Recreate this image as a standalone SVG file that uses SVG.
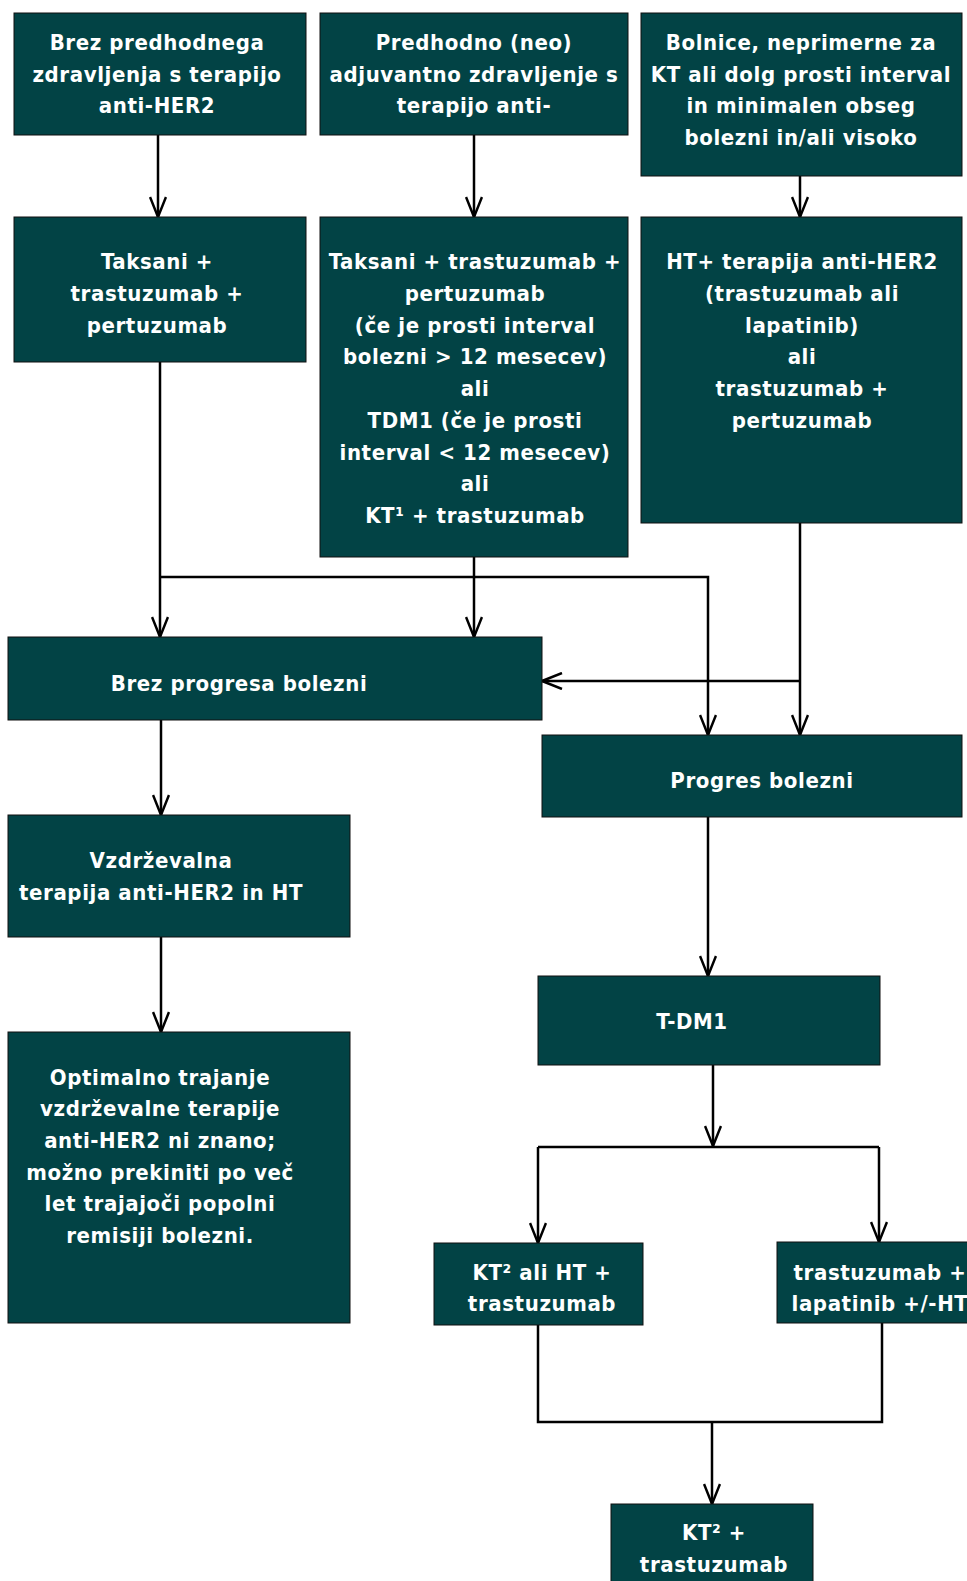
<svg xmlns="http://www.w3.org/2000/svg" width="967" height="1581" viewBox="0 0 967 1581">
<style>
.box{fill:#024345;stroke:#111;stroke-width:1}
.t{font-family:"DejaVu Sans Condensed","DejaVu Sans",sans-serif;font-stretch:condensed;font-weight:bold;font-size:22px;letter-spacing:0.6px;fill:#fff;text-anchor:middle}
.c{fill:none;stroke:#000;stroke-width:2.5}
</style>
<defs>
<marker id="arr" viewBox="0 0 22 18" refX="21" refY="9" markerWidth="22" markerHeight="18" markerUnits="userSpaceOnUse" orient="auto">
<path d="M1,1 L21,9 L1,17" fill="none" stroke="#000" stroke-width="2.5"/>
</marker>
</defs>
<rect width="967" height="1581" fill="#fff"/>
<g id="connectors">
<path class="c" d="M158,135 V217" marker-end="url(#arr)"/>
<path class="c" d="M474,135 V217" marker-end="url(#arr)"/>
<path class="c" d="M800,176 V217" marker-end="url(#arr)"/>
<path class="c" d="M160,362 V637" marker-end="url(#arr)"/>
<path class="c" d="M160,577 H708 V735" marker-end="url(#arr)"/>
<path class="c" d="M474,557 V637" marker-end="url(#arr)"/>
<path class="c" d="M800,523 V735" marker-end="url(#arr)"/>
<path class="c" d="M800,681 H542" marker-end="url(#arr)"/>
<path class="c" d="M161,720 V815" marker-end="url(#arr)"/>
<path class="c" d="M161,937 V1032" marker-end="url(#arr)"/>
<path class="c" d="M708,817 V976" marker-end="url(#arr)"/>
<path class="c" d="M713,1065 V1146" marker-end="url(#arr)"/>
<path class="c" d="M538,1147 H879"/>
<path class="c" d="M538,1147 V1243" marker-end="url(#arr)"/>
<path class="c" d="M879,1147 V1242" marker-end="url(#arr)"/>
<path class="c" d="M538,1325 V1422 H882 V1323"/>
<path class="c" d="M712,1422 V1504" marker-end="url(#arr)"/>
</g>
<g id="n1">
<rect class="box" x="14" y="13" width="292" height="122"/>
<text class="t" x="157" y="50">Brez predhodnega</text>
<text class="t" x="157" y="81.5">zdravljenja s terapijo</text>
<text class="t" x="157" y="113">anti-HER2</text>
</g>
<g id="n2">
<rect class="box" x="320" y="13" width="308" height="122"/>
<text class="t" x="474" y="50">Predhodno (neo)</text>
<text class="t" x="474" y="81.5">adjuvantno zdravljenje s</text>
<text class="t" x="474" y="113">terapijo anti-</text>
</g>
<g id="n3">
<rect class="box" x="641" y="13" width="321" height="163"/>
<text class="t" x="801" y="50">Bolnice, neprimerne za</text>
<text class="t" x="801" y="81.5">KT ali dolg prosti interval</text>
<text class="t" x="801" y="113">in minimalen obseg</text>
<text class="t" x="801" y="144.5">bolezni in/ali visoko</text>
</g>
<g id="n4">
<rect class="box" x="14" y="217" width="292" height="145"/>
<text class="t" x="157" y="269">Taksani +</text>
<text class="t" x="157" y="300.75">trastuzumab +</text>
<text class="t" x="157" y="332.5">pertuzumab</text>
</g>
<g id="n5">
<rect class="box" x="320" y="217" width="308" height="340"/>
<text class="t" x="475" y="269">Taksani + trastuzumab +</text>
<text class="t" x="475" y="300.75">pertuzumab</text>
<text class="t" x="475" y="332.5">(če je prosti interval</text>
<text class="t" x="475" y="364.25">bolezni &gt; 12 mesecev)</text>
<text class="t" x="475" y="396">ali</text>
<text class="t" x="475" y="427.75">TDM1 (če je prosti</text>
<text class="t" x="475" y="459.5">interval &lt; 12 mesecev)</text>
<text class="t" x="475" y="491.25">ali</text>
<text class="t" x="475" y="523">KT¹ + trastuzumab</text>
</g>
<g id="n6">
<rect class="box" x="641" y="217" width="321" height="306"/>
<text class="t" x="802" y="269">HT+ terapija anti-HER2</text>
<text class="t" x="802" y="300.75">(trastuzumab ali</text>
<text class="t" x="802" y="332.5">lapatinib)</text>
<text class="t" x="802" y="364.25">ali</text>
<text class="t" x="802" y="396">trastuzumab +</text>
<text class="t" x="802" y="427.75">pertuzumab</text>
</g>
<g id="n7">
<rect class="box" x="8" y="637" width="534" height="83"/>
<text class="t" x="239" y="691">Brez progresa bolezni</text>
</g>
<g id="n8">
<rect class="box" x="542" y="735" width="420" height="82"/>
<text class="t" x="762" y="788">Progres bolezni</text>
</g>
<g id="n9">
<rect class="box" x="8" y="815" width="342" height="122"/>
<text class="t" x="161" y="868">Vzdrževalna</text>
<text class="t" x="161" y="900">terapija anti-HER2 in HT</text>
</g>
<g id="n10">
<rect class="box" x="8" y="1032" width="342" height="291"/>
<text class="t" x="160" y="1084.5">Optimalno trajanje</text>
<text class="t" x="160" y="1116.2">vzdrževalne terapije</text>
<text class="t" x="160" y="1147.9">anti-HER2 ni znano;</text>
<text class="t" x="160" y="1179.6">možno prekiniti po več</text>
<text class="t" x="160" y="1211.3">let trajajoči popolni</text>
<text class="t" x="160" y="1243">remisiji bolezni.</text>
</g>
<g id="n11">
<rect class="box" x="538" y="976" width="342" height="89"/>
<text class="t" x="692" y="1029">T-DM1</text>
</g>
<g id="n12">
<rect class="box" x="434" y="1243" width="209" height="82"/>
<text class="t" x="542" y="1279.5">KT² ali HT +</text>
<text class="t" x="542" y="1311">trastuzumab</text>
</g>
<g id="n13">
<rect class="box" x="777" y="1242" width="220" height="81"/>
<text class="t" x="880" y="1279.5">trastuzumab +</text>
<text class="t" x="880" y="1311">lapatinib +/-HT</text>
</g>
<g id="n14">
<rect class="box" x="611" y="1504" width="202" height="90"/>
<text class="t" x="714" y="1540">KT² +</text>
<text class="t" x="714" y="1572">trastuzumab</text>
</g>
</svg>
